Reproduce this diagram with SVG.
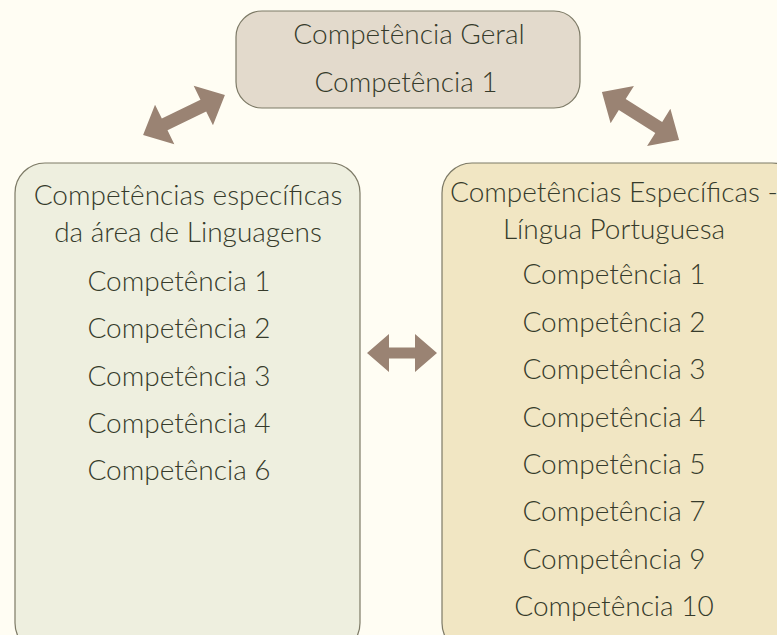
<svg xmlns="http://www.w3.org/2000/svg" width="777" height="635" viewBox="0 0 777 635">
<style>
.t{font-family:Lato,"Open Sans","DejaVu Sans",sans-serif;font-size:28px;font-weight:300;fill:#363b2b;text-anchor:middle}
.box{stroke:#7d7a66;stroke-width:1.2}
.arr{fill:#9a8373}
</style>
<rect width="777" height="635" fill="#fffdf3"/>
<g id="connectors">
<polygon class="arr" transform="translate(184,115) rotate(-26)" points="-45.5,0 -21.5,-22 -21.5,-6.5 21.5,-6.5 21.5,-22 45.5,0 21.5,22 21.5,6.5 -21.5,6.5 -21.5,22"/>
<polygon class="arr" transform="translate(640.5,116) rotate(32)" points="-45.5,0 -21.5,-22 -21.5,-6.5 21.5,-6.5 21.5,-22 45.5,0 21.5,22 21.5,6.5 -21.5,6.5 -21.5,22"/>
<polygon class="arr" transform="translate(402,353)" points="-35,0 -13,-19 -13,-5.5 13,-5.5 13,-19 35,0 13,19 13,5.5 -13,5.5 -13,19"/>
</g>
<g id="geral">
<rect class="box" x="236" y="11" width="344" height="97" rx="26" fill="#e3dacc"/>
<text class="t" x="409" y="44">Competência Geral</text>
<text class="t" x="406" y="92">Competência 1</text>
</g>
<g id="linguagens">
<rect class="box" x="15" y="163" width="345" height="490" rx="30" fill="#eeefdf"/>
<text class="t" x="188" y="205">Competências específicas</text>
<text class="t" x="188" y="242">da área de Linguagens</text>
<text class="t" x="179" y="290.5">Competência 1</text>
<text class="t" x="179" y="338">Competência 2</text>
<text class="t" x="179" y="385.5">Competência 3</text>
<text class="t" x="179" y="433">Competência 4</text>
<text class="t" x="179" y="480">Competência 6</text>
</g>
<g id="portuguesa">
<rect class="box" x="442" y="163" width="360" height="490" rx="30" fill="#f1e6c3"/>
<text class="t" x="614" y="202">Competências Específicas -</text>
<text class="t" x="614" y="239">Língua Portuguesa</text>
<text class="t" x="614" y="284">Competência 1</text>
<text class="t" x="614" y="331.5">Competência 2</text>
<text class="t" x="614" y="379">Competência 3</text>
<text class="t" x="614" y="426.5">Competência 4</text>
<text class="t" x="614" y="474">Competência 5</text>
<text class="t" x="614" y="521">Competência 7</text>
<text class="t" x="614" y="568.5">Competência 9</text>
<text class="t" x="614" y="616">Competência 10</text>
</g>
</svg>
